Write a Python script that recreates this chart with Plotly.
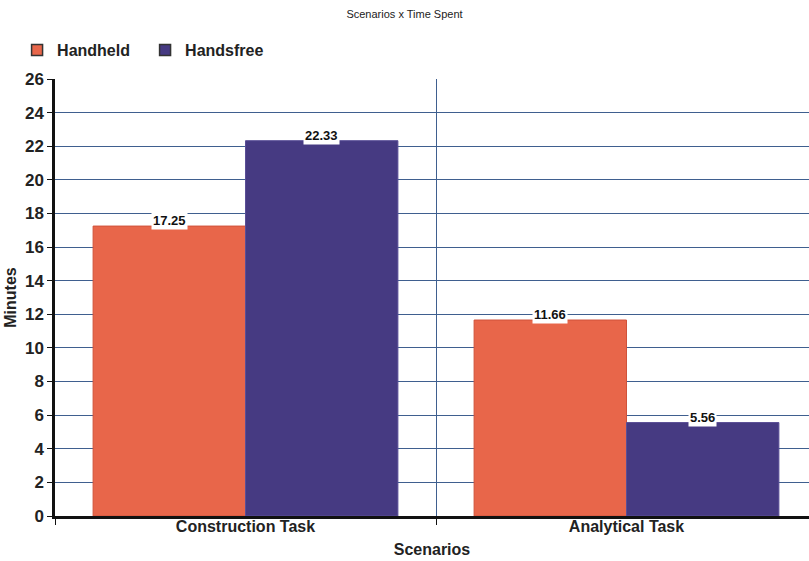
import plotly.graph_objects as go

categories = ["Construction Task", "Analytical Task"]
handheld = [17.25, 11.66]
handsfree = [22.33, 5.56]
y_ticks = list(range(0, 27, 2))

c_handheld = "#E8664A"
c_handsfree = "#463A82"
grid_c = "#3F5F8F"
sans = "Liberation Sans, Arial"

fig = go.Figure()
fig.add_trace(go.Bar(name="Handheld", x=categories, y=handheld, showlegend=False,
                     marker=dict(color=c_handheld, line=dict(color="#D0523A", width=1))))
fig.add_trace(go.Bar(name="Handsfree", x=categories, y=handsfree, showlegend=False,
                     marker=dict(color=c_handsfree, line=dict(color="#5A4E96", width=1))))

# legend keys: outlined squares
for name, col in (("Handheld", c_handheld), ("Handsfree", c_handsfree)):
    fig.add_trace(go.Scatter(name=name, x=[None], y=[None], mode="markers",
                             marker=dict(symbol="square", size=11, color=col,
                                         line=dict(color="#333", width=1.5))))

# value labels on white boxes above each bar
plot_w = 754
band = plot_w / 1.979
bar_w = band * 0.8 / 2
for i, cat in enumerate(categories):
    for vals, shift in ((handheld, -bar_w / 2), (handsfree, bar_w / 2)):
        fig.add_annotation(x=cat, y=vals[i], text=f"<b>{vals[i]:.2f}</b>",
                           xshift=shift, yanchor="bottom", yshift=-4, showarrow=False,
                           bgcolor="white", borderpad=1,
                           font=dict(family=sans, size=13, color="#111"))

fig.update_layout(
    width=809, height=561,
    margin=dict(l=55, r=0, t=79, b=45),
    paper_bgcolor="white", plot_bgcolor="white",
    barmode="group", bargap=0.2, bargroupgap=0,
    title=dict(text="Scenarios x Time Spent", x=0.5, xanchor="center", y=1 - 14 / 561,
               yanchor="middle", font=dict(family=sans, size=11, color="#222")),
    legend=dict(orientation="h", x=-0.0503, xanchor="left", y=1.066, yanchor="middle",
                font=dict(family=sans, size=16, color="#222", weight="bold"),
                entrywidth=83, entrywidthmode="pixels", traceorder="normal"),
    showlegend=True,
)
fig.update_xaxes(range=[-0.5, 1.479], tickson="boundaries", ticks="outside", ticklen=6,
                 tickcolor="#111", showgrid=True, gridcolor=grid_c, gridwidth=1,
                 showline=True, linecolor="#111", linewidth=2.5,
                 tickfont=dict(family=sans, size=16, color="#222"),
                 ticklabelstandoff=-6,
                 tickvals=categories, ticktext=[f"<b>{c}</b>" for c in categories],
                 title=dict(text="<b>Scenarios</b>", standoff=10,
                            font=dict(family=sans, size=16, color="#222")))
fig.update_yaxes(range=[0, 26], tickvals=y_ticks, ticktext=[f"<b>{t}</b>" for t in y_ticks],
                 ticks="outside", ticklen=5, tickcolor="#111",
                 showgrid=True, gridcolor=grid_c, gridwidth=1,
                 showline=True, linecolor="#111", linewidth=2.5, zeroline=False,
                 tickfont=dict(family=sans, size=17, color="#222"),
                 title=dict(text="<b>Minutes</b>", standoff=5,
                            font=dict(family=sans, size=16, color="#222")))

fig.write_html("out.html")
